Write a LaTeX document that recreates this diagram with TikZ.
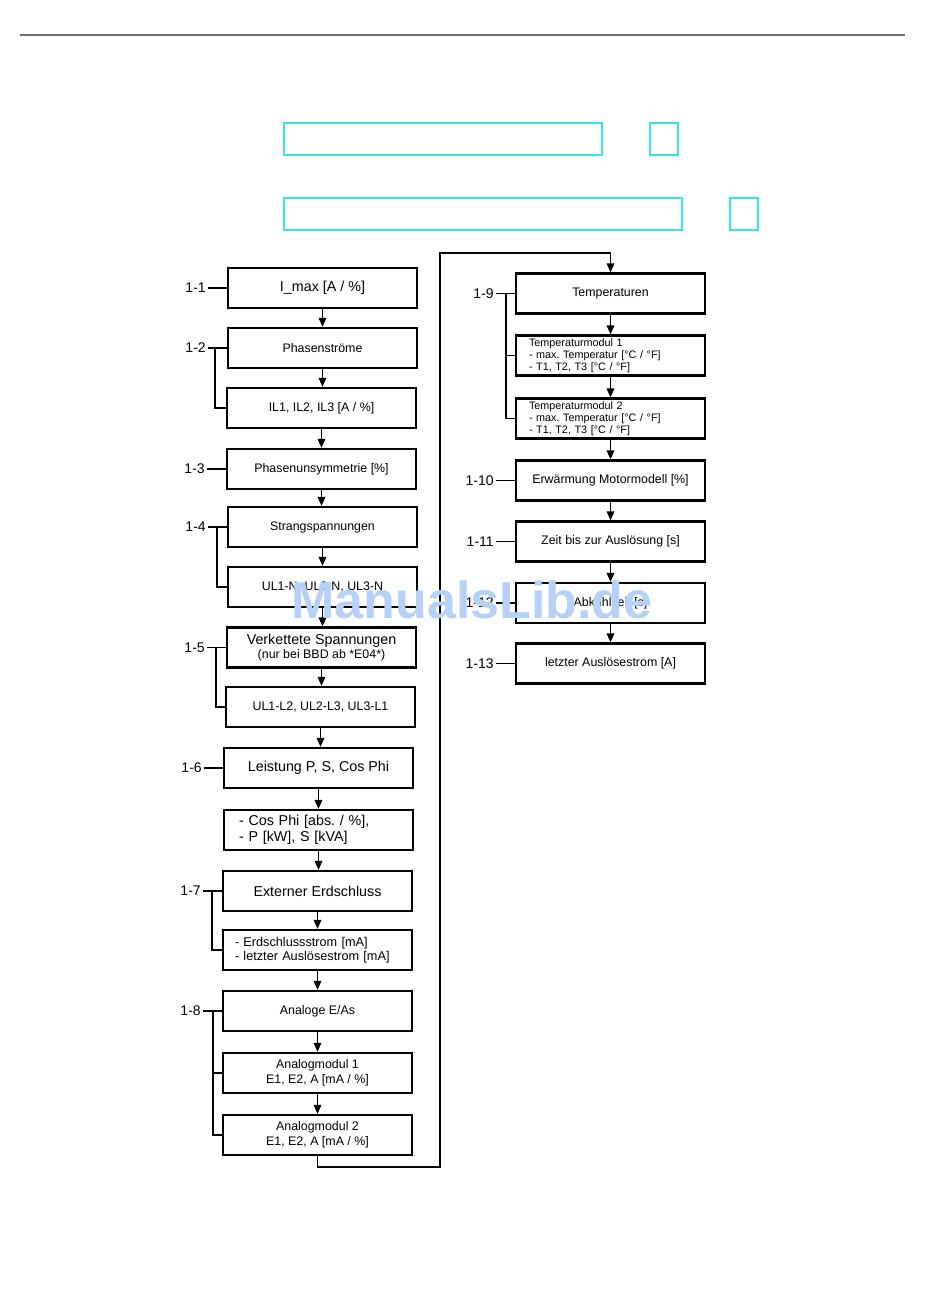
\documentclass[tikz,border=0pt]{standalone}
\usepackage{fontspec}
\setmainfont{Liberation Sans}
\usetikzlibrary{arrows.meta}
\definecolor{boxcyan}{RGB}{51,230,230}
\definecolor{wmblue}{RGB}{182,209,245}
\definecolor{rulegray}{RGB}{110,110,110}
\frenchspacing

\begin{document}
\begin{tikzpicture}[x=1pt,y=-1pt,
    box/.style={draw, line width=2.2pt, minimum width=189pt, minimum height=40pt, inner sep=2pt, align=center, font=\fontsize{12.4}{14.5}\selectfont},
    big/.style={font=\fontsize{14.3}{15.5}\selectfont},
    small/.style={font=\fontsize{10.8}{12.1}\selectfont, inner ysep=0.5pt},
    lbl/.style={anchor=east, inner ysep=0pt, inner xsep=2pt, font=\fontsize{14}{16}\selectfont},
    arr/.style={line width=1.6pt, -{Triangle[length=9pt,width=7.5pt]}},
    lnk/.style={line width=1.6pt}]
  \useasboundingbox (0,0) rectangle (950,1302);
  % header
  \draw[rulegray, line width=1.5pt] (20,35) -- (905,35);
  \draw[boxcyan, line width=1.8pt] (284,123) rectangle (602,155);
  \draw[boxcyan, line width=1.8pt] (650,123) rectangle (678,155);
  \draw[boxcyan, line width=1.8pt] (284,198) rectangle (682,230);
  \draw[boxcyan, line width=1.8pt] (730,198) rectangle (758,230);

  % left column
  \node[box, big] at (322.5,288) (b1) {I\_max [A / \%]};
  \node[box] at (322.5,348) (b2) {Phasenströme};
  \node[box] at (321.5,408) (b3) {IL1, IL2, IL3 [A / \%]};
  \node[box] at (321.5,469) (b4) {Phasenunsymmetrie [\%]};
  \node[box] at (322.5,527) (b5) {Strangspannungen};
  \node[box] at (322.5,587) (b6) {UL1-N, UL2-N, UL3-N};
  \node[box] at (321.5,647.5) (b7) {{\fontsize{14.3}{15}\selectfont Verkettete Spannungen}\\(nur bei BBD ab *E04*)};
  \node[box] at (320.5,707) (b8) {UL1-L2, UL2-L3, UL3-L1};
  \node[box, big] at (318.5,768) (b9) {Leistung P, S, Cos Phi};
  \node[box, big, text width=159pt, align=left] at (318.5,830) (b10) {- Cos Phi [abs. / \%],\\- P [kW], S [kVA]};
  \node[box, big] at (317.5,891) (b11) {Externer Erdschluss};
  \node[box, text width=165pt, align=left, font=\fontsize{12.7}{14}\selectfont] at (317.5,950) (b12) {- Erdschlussstrom [mA]\\- letzter Auslösestrom [mA]};
  \node[box] at (317.5,1011) (b13) {Analoge E/As};
  \node[box] at (317.5,1073) (b14) {Analogmodul 1\\E1, E2, A [mA / \%]};
  \node[box] at (317.5,1135) (b15) {Analogmodul 2\\E1, E2, A [mA / \%]};

  % right column
  \node[box] at (610.5,293.5) (r1) {Temperaturen};
  \node[box, small, text width=163pt, align=left] at (610.5,355.5) (r2) {Temperaturmodul 1\\- max. Temperatur [°C / °F]\\- T1, T2, T3 [°C / °F]};
  \node[box, small, text width=163pt, align=left] at (610.5,418.5) (r3) {Temperaturmodul 2\\- max. Temperatur [°C / °F]\\- T1, T2, T3 [°C / °F]};
  \node[box] at (610.5,480.5) (r4) {Erwärmung Motormodell [\%]};
  \node[box] at (610.5,541.5) (r5) {Zeit bis zur Auslösung [s]};
  \node[box] at (610.5,603) (r6) {Abkühlzeit [s]};
  \node[box] at (610.5,663.5) (r7) {letzter Auslösestrom [A]};

  \foreach \a/\b in {b1/b2,b2/b3,b3/b4,b4/b5,b5/b6,b6/b7,b7/b8,b8/b9,b9/b10,b10/b11,b11/b12,b12/b13,b13/b14,b14/b15,r1/r2,r2/r3,r3/r4,r4/r5,r5/r6,r6/r7}
    \draw[arr] (\a.south) -- (\a.south |- \b.north);

  % return path to the right column
  \coordinate (lo) at (440,1167);
  \coordinate (hi) at (440,253);
  \draw[arr] (b15.south) |- (lo) -- (hi) -| (r1.north);

  % menu numbers
  \foreach \n/\t in {b1/1-1,b2/1-2,b4/1-3,b5/1-4,b7/1-5,b9/1-6,b11/1-7,b13/1-8,r1/1-9,r4/1-10,r5/1-11,r6/1-12,r7/1-13}
  {
    \node[lbl] at ([xshift=-19pt]\n.west) (l\n) {\t};
    \draw[lnk] (l\n) -- (\n.west);
  }
  \draw[lnk] ([xshift=-12pt]b2.west) |- (b3.west);
  \draw[lnk] ([xshift=-10pt]b5.west) |- (b6.west);
  \draw[lnk] ([xshift=-10pt]b7.west) |- (b8.west);
  \draw[lnk] ([xshift=-10pt]b11.west) |- (b12.west);
  \draw[lnk] ([xshift=-9pt]b13.west) |- (b15.west);
  \draw[lnk] ([xshift=-9pt]b13.west |- b14.west) -- (b14.west);
  \draw[lnk] ([xshift=-9pt]r1.west) |- (r3.west);
  \draw[lnk] ([xshift=-9pt]r1.west |- r2.west) -- (r2.west);

  % watermark
  \node[wmblue, anchor=base, inner sep=0pt, font=\fontsize{52}{52}\bfseries] at (472,618) (wm) {ManualsLib.de};
\end{tikzpicture}
\end{document}
